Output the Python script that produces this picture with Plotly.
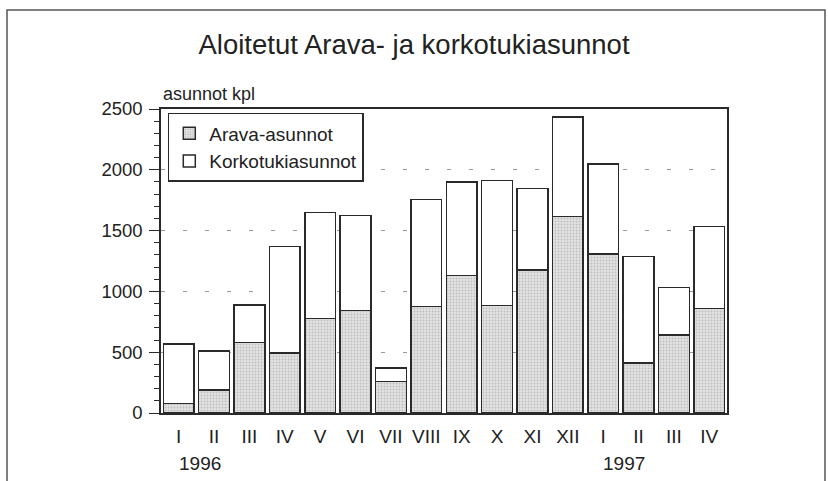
import plotly.graph_objects as go

months = ["I", "II", "III", "IV", "V", "VI", "VII", "VIII", "IX", "X", "XI", "XII",
          "I", "II", "III", "IV"]
years = ["1996", "1997"]
year_start_index = [0, 12]
arava = [80, 190, 578, 493, 776, 842, 260, 875, 1130, 885, 1177, 1617, 1306, 412, 641, 858]
total = [569, 509, 890, 1370, 1650, 1625, 371, 1757, 1898, 1914, 1848, 2436, 2046, 1287, 1031, 1535]
korko = [t - a for t, a in zip(total, arava)]

x = list(range(len(months)))
FONT = "Liberation Sans, Arial, Helvetica, sans-serif"
LINE = "#2a2a2a"

fig = go.Figure()
fig.add_trace(go.Bar(
    x=x, y=arava, name="Arava-asunnot",
    marker=dict(color="#dcdcdc", line=dict(color=LINE, width=1.5),
                pattern=dict(shape=".", fgcolor="#9a9a9a", bgcolor="#e2e2e2",
                             size=3, solidity=0.3)),
))
fig.add_trace(go.Bar(
    x=x, y=korko, name="Korkotukiasunnot",
    marker=dict(color="white", line=dict(color=LINE, width=1.5)),
))

fig.update_layout(
    barmode="stack", bargap=0.13,
    width=828, height=481,
    margin=dict(l=161, r=101, t=109, b=68),
    paper_bgcolor="white", plot_bgcolor="white",
    font=dict(family=FONT, color="#222", size=18),
    title=dict(text="Aloitetut Arava- ja korkotukiasunnot", x=0.5, xanchor="center",
               y=1 - 44 / 481, yanchor="middle", yref="container",
               font=dict(size=27.5, family=FONT, color="#222")),
    showlegend=True,
    legend=dict(x=0.012, y=0.987, xanchor="left", yanchor="top",
                bgcolor="white", bordercolor=LINE, borderwidth=1.5,
                font=dict(size=19, family=FONT, color="#222"),
                traceorder="normal", itemwidth=30, tracegroupgap=4),
    bargroupgap=0,
)

fig.update_xaxes(
    range=[-0.5, len(months) - 0.5],
    tickmode="array", tickvals=x, ticktext=months,
    tickfont=dict(size=19, family=FONT, color="#222"),
    showgrid=False, showline=True, linecolor=LINE, linewidth=1.5, mirror=True,
    ticks="", zeroline=False, ticklabelstandoff=5,
)
fig.update_yaxes(
    range=[0, 2500], tickmode="linear", tick0=0, dtick=500,
    tickfont=dict(size=18.5, family=FONT, color="#222"),
    showgrid=True, gridcolor="#9a9a9a", gridwidth=1, griddash="4px,18px",
    showline=True, linecolor=LINE, linewidth=1.5, mirror=True,
    ticks="outside", ticklen=10, tickwidth=1, tickcolor=LINE,
    minor=dict(dtick=100, ticks="outside", ticklen=5, tickcolor=LINE, tickwidth=1, showgrid=False),
    zeroline=False, ticklabelstandoff=3,
)

fig.add_annotation(text="asunnot kpl", xref="paper", yref="paper", x=0, y=1.0,
                   xanchor="left", yanchor="bottom", yshift=3, showarrow=False,
                   font=dict(size=18, family=FONT, color="#222"))
for yr, idx in zip(years, year_start_index):
    fig.add_annotation(text=yr, xref="x", yref="paper", x=idx, y=-50 / 304,
                       xanchor="left", yanchor="middle", xshift=-2, showarrow=False,
                       font=dict(size=19, family=FONT, color="#222"))

# outer frame (open at the bottom)
fig.add_shape(type="path", xref="paper", yref="paper",
              path="M %f %f L %f %f L %f %f L %f %f" % (
                  (7 - 161) / 566, -0.3, (7 - 161) / 566, (413 - 10) / 304,
                  (825 - 161) / 566, (413 - 10) / 304, (825 - 161) / 566, -0.3),
              line=dict(color="#555", width=1.5))

fig.write_html("out.html", config={"displayModeBar": False},
               post_script="document.body.style.margin='0';document.body.style.overflow='hidden';")
